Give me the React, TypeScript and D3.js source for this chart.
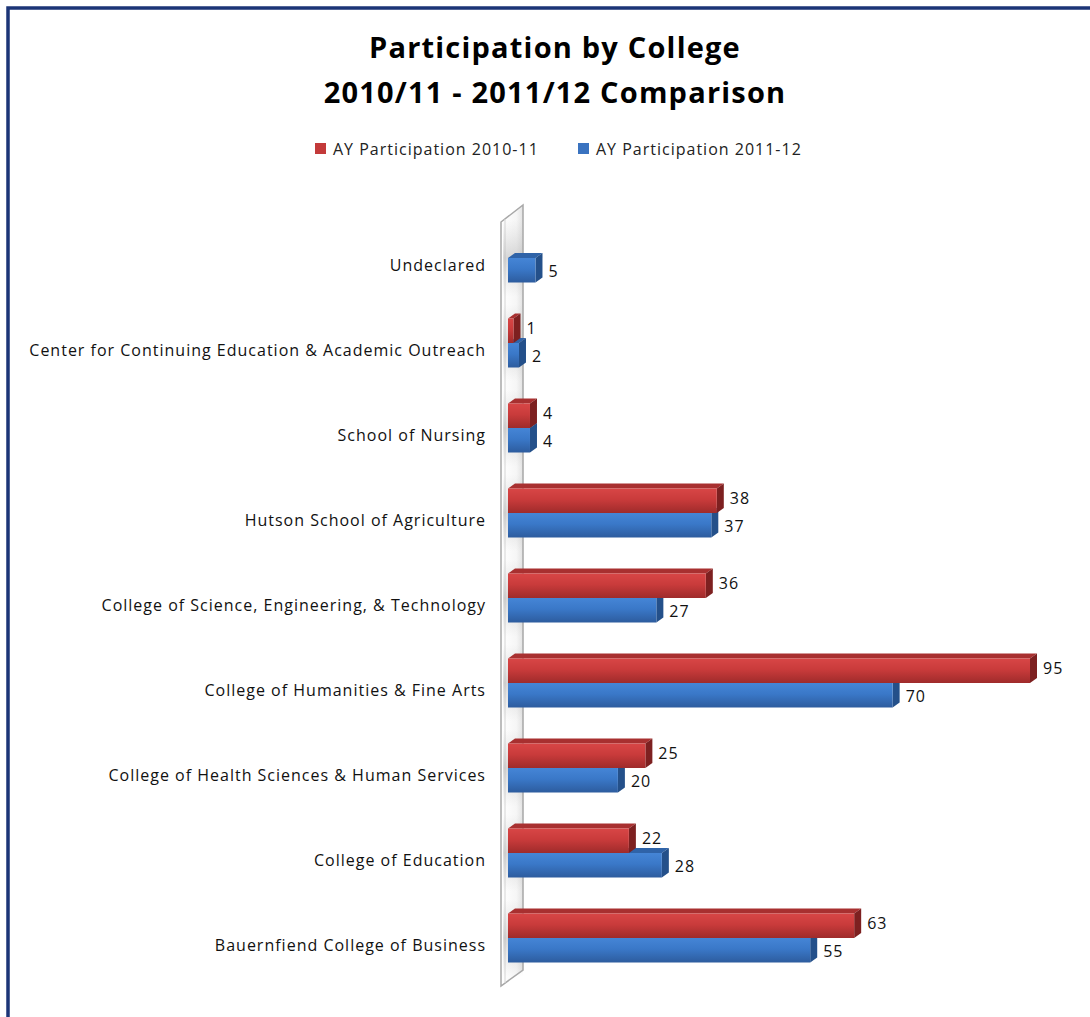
import React, { useEffect, useRef } from 'react';
import * as d3 from 'd3';

const categories = [
  'Undeclared',
  'Center for Continuing Education & Academic Outreach',
  'School of Nursing',
  'Hutson School of Agriculture',
  'College of Science, Engineering, & Technology',
  'College of Humanities & Fine Arts',
  'College of Health Sciences & Human Services',
  'College of Education',
  'Bauernfiend College of Business',
];
const series2010: (number | null)[] = [null, 1, 4, 38, 36, 95, 25, 22, 63];
const series2011: (number | null)[] = [5, 2, 4, 37, 27, 70, 20, 28, 55];
const seriesNames = ['AY Participation 2010-11', 'AY Participation 2011-12'];

const W = 1090;
const H = 1017;
const FONT = '"Open Sans", Lato, sans-serif';

const App = () => {
  const svgRef = useRef<SVGSVGElement>(null);

  useEffect(() => {
    const svg = d3.select(svgRef.current);
    svg.selectAll('*').remove();

    const defs = svg.append('defs');
    const grad = (id: string, c1: string, c2: string, c3: string) => {
      const g = defs.append('linearGradient').attr('id', id).attr('x1', 0).attr('y1', 0).attr('x2', 0).attr('y2', 1);
      g.append('stop').attr('offset', '0%').attr('stop-color', c1);
      g.append('stop').attr('offset', '45%').attr('stop-color', c2);
      g.append('stop').attr('offset', '100%').attr('stop-color', c3);
    };
    grad('redFront', '#d84646', '#c93b3b', '#9f2b2b');
    grad('blueFront', '#4585d6', '#3a78c8', '#2d5c9e');
    const wg = defs.append('linearGradient').attr('id', 'wall').attr('x1', 0).attr('y1', 0).attr('x2', 1).attr('y2', 0);
    wg.append('stop').attr('offset', '0%').attr('stop-color', '#ffffff');
    wg.append('stop').attr('offset', '70%').attr('stop-color', '#f6f6f6');
    wg.append('stop').attr('offset', '100%').attr('stop-color', '#e2e2e2');
    const sg = defs.append('linearGradient').attr('id', 'shadow').attr('x1', 0).attr('y1', 0).attr('x2', 0).attr('y2', 1);
    sg.append('stop').attr('offset', '0%').attr('stop-color', '#bbb').attr('stop-opacity', 0);
    sg.append('stop').attr('offset', '50%').attr('stop-color', '#aaa').attr('stop-opacity', 0.45);
    sg.append('stop').attr('offset', '100%').attr('stop-color', '#bbb').attr('stop-opacity', 0);

    // chart border
    svg.append('rect')
      .attr('x', 8).attr('y', 8).attr('width', W + 20).attr('height', H + 20)
      .attr('fill', 'white').attr('stroke', '#1c3577').attr('stroke-width', 3.5);

    // title
    [['Participation by College', 58], ['2010/11 - 2011/12 Comparison', 103]].forEach(([t, ty]) => {
      svg.append('text').attr('x', 555).attr('y', ty as number).attr('text-anchor', 'middle')
        .attr('font-family', FONT).attr('font-weight', 'bold').attr('font-size', 29)
        .attr('letter-spacing', 1.2)
        .text(t as string);
    });

    // legend
    const legendX = [315, 578];
    const legendCol = ['#c33a3a', '#3a73c0'];
    seriesNames.forEach((n, i) => {
      svg.append('rect').attr('x', legendX[i]).attr('y', 143).attr('width', 11).attr('height', 11).attr('fill', legendCol[i]);
      svg.append('text').attr('x', legendX[i] + 18).attr('y', 155)
        .attr('font-family', FONT).attr('font-size', 16).attr('letter-spacing', 1.0)
        .attr('fill', '#222').text(n);
    });

    const x = d3.scaleLinear().domain([0, 95]).range([508, 1030]);
    const y = d3.scalePoint<string>().domain(categories).range([258, 938]);
    const barH = 24.5;
    const dx = 7;
    const dy = 5;

    // wall
    svg.append('polygon')
      .attr('points', '501,222 523,205 523,970 501,986')
      .attr('fill', 'url(#wall)').attr('stroke', '#a8a8a8').attr('stroke-width', 1.5);
    svg.append('line').attr('x1', 505).attr('y1', 219).attr('x2', 505).attr('y2', 983)
      .attr('stroke', '#d4d4d4').attr('stroke-width', 1);

    // bar shadows on wall
    categories.forEach((c) => {
      svg.append('rect').attr('x', 503).attr('y', y(c)! - barH - 14).attr('width', 20).attr('height', barH * 2 + 28)
        .attr('fill', 'url(#shadow)');
    });

    const drawBar = (v: number, top: number, front: string, topC: string, side: string) => {
      const x0 = x(0);
      const x1 = x(v);
      const g = svg.append('g');
      g.append('polygon')
        .attr('points', `${x0},${top} ${x0 + dx},${top - dy} ${x1 + dx},${top - dy} ${x1},${top}`)
        .attr('fill', topC);
      g.append('polygon')
        .attr('points', `${x1},${top} ${x1 + dx},${top - dy} ${x1 + dx},${top + barH - dy} ${x1},${top + barH}`)
        .attr('fill', side);
      g.append('rect').attr('x', x0).attr('y', top).attr('width', x1 - x0).attr('height', barH)
        .attr('fill', front);
    };

    const labelStyle = (t: d3.Selection<SVGTextElement, unknown, null, undefined>) =>
      t.attr('font-family', FONT).attr('font-size', 16).attr('letter-spacing', 1.0).attr('fill', '#111');

    categories.forEach((c, i) => {
      const cy = y(c)!;
      labelStyle(svg.append('text').attr('x', 486).attr('y', cy + 13).attr('text-anchor', 'end').text(c));
      const r = series2010[i];
      const b = series2011[i];
      // blue (back row in the picture) first, red drawn over its top face
      if (b !== null) {
        drawBar(b, cy, 'url(#blueFront)', '#2f63a8', '#24508a');
      }
      if (r !== null) {
        drawBar(r, cy - barH, 'url(#redFront)', '#a83030', '#7d2020');
      }
      if (r !== null) {
        labelStyle(svg.append('text').attr('x', x(r) + 13).attr('y', cy - barH / 2 + 3).text(String(r)));
      }
      if (b !== null) {
        labelStyle(svg.append('text').attr('x', x(b) + 13).attr('y', cy + barH / 2 + 7).text(String(b)));
      }
    });
  }, []);

  return (
    <svg
      ref={svgRef}
      width={W}
      height={H}
      style={{ position: 'absolute', left: 0, top: 0, background: 'white' }}
    />
  );
};

export default App;
